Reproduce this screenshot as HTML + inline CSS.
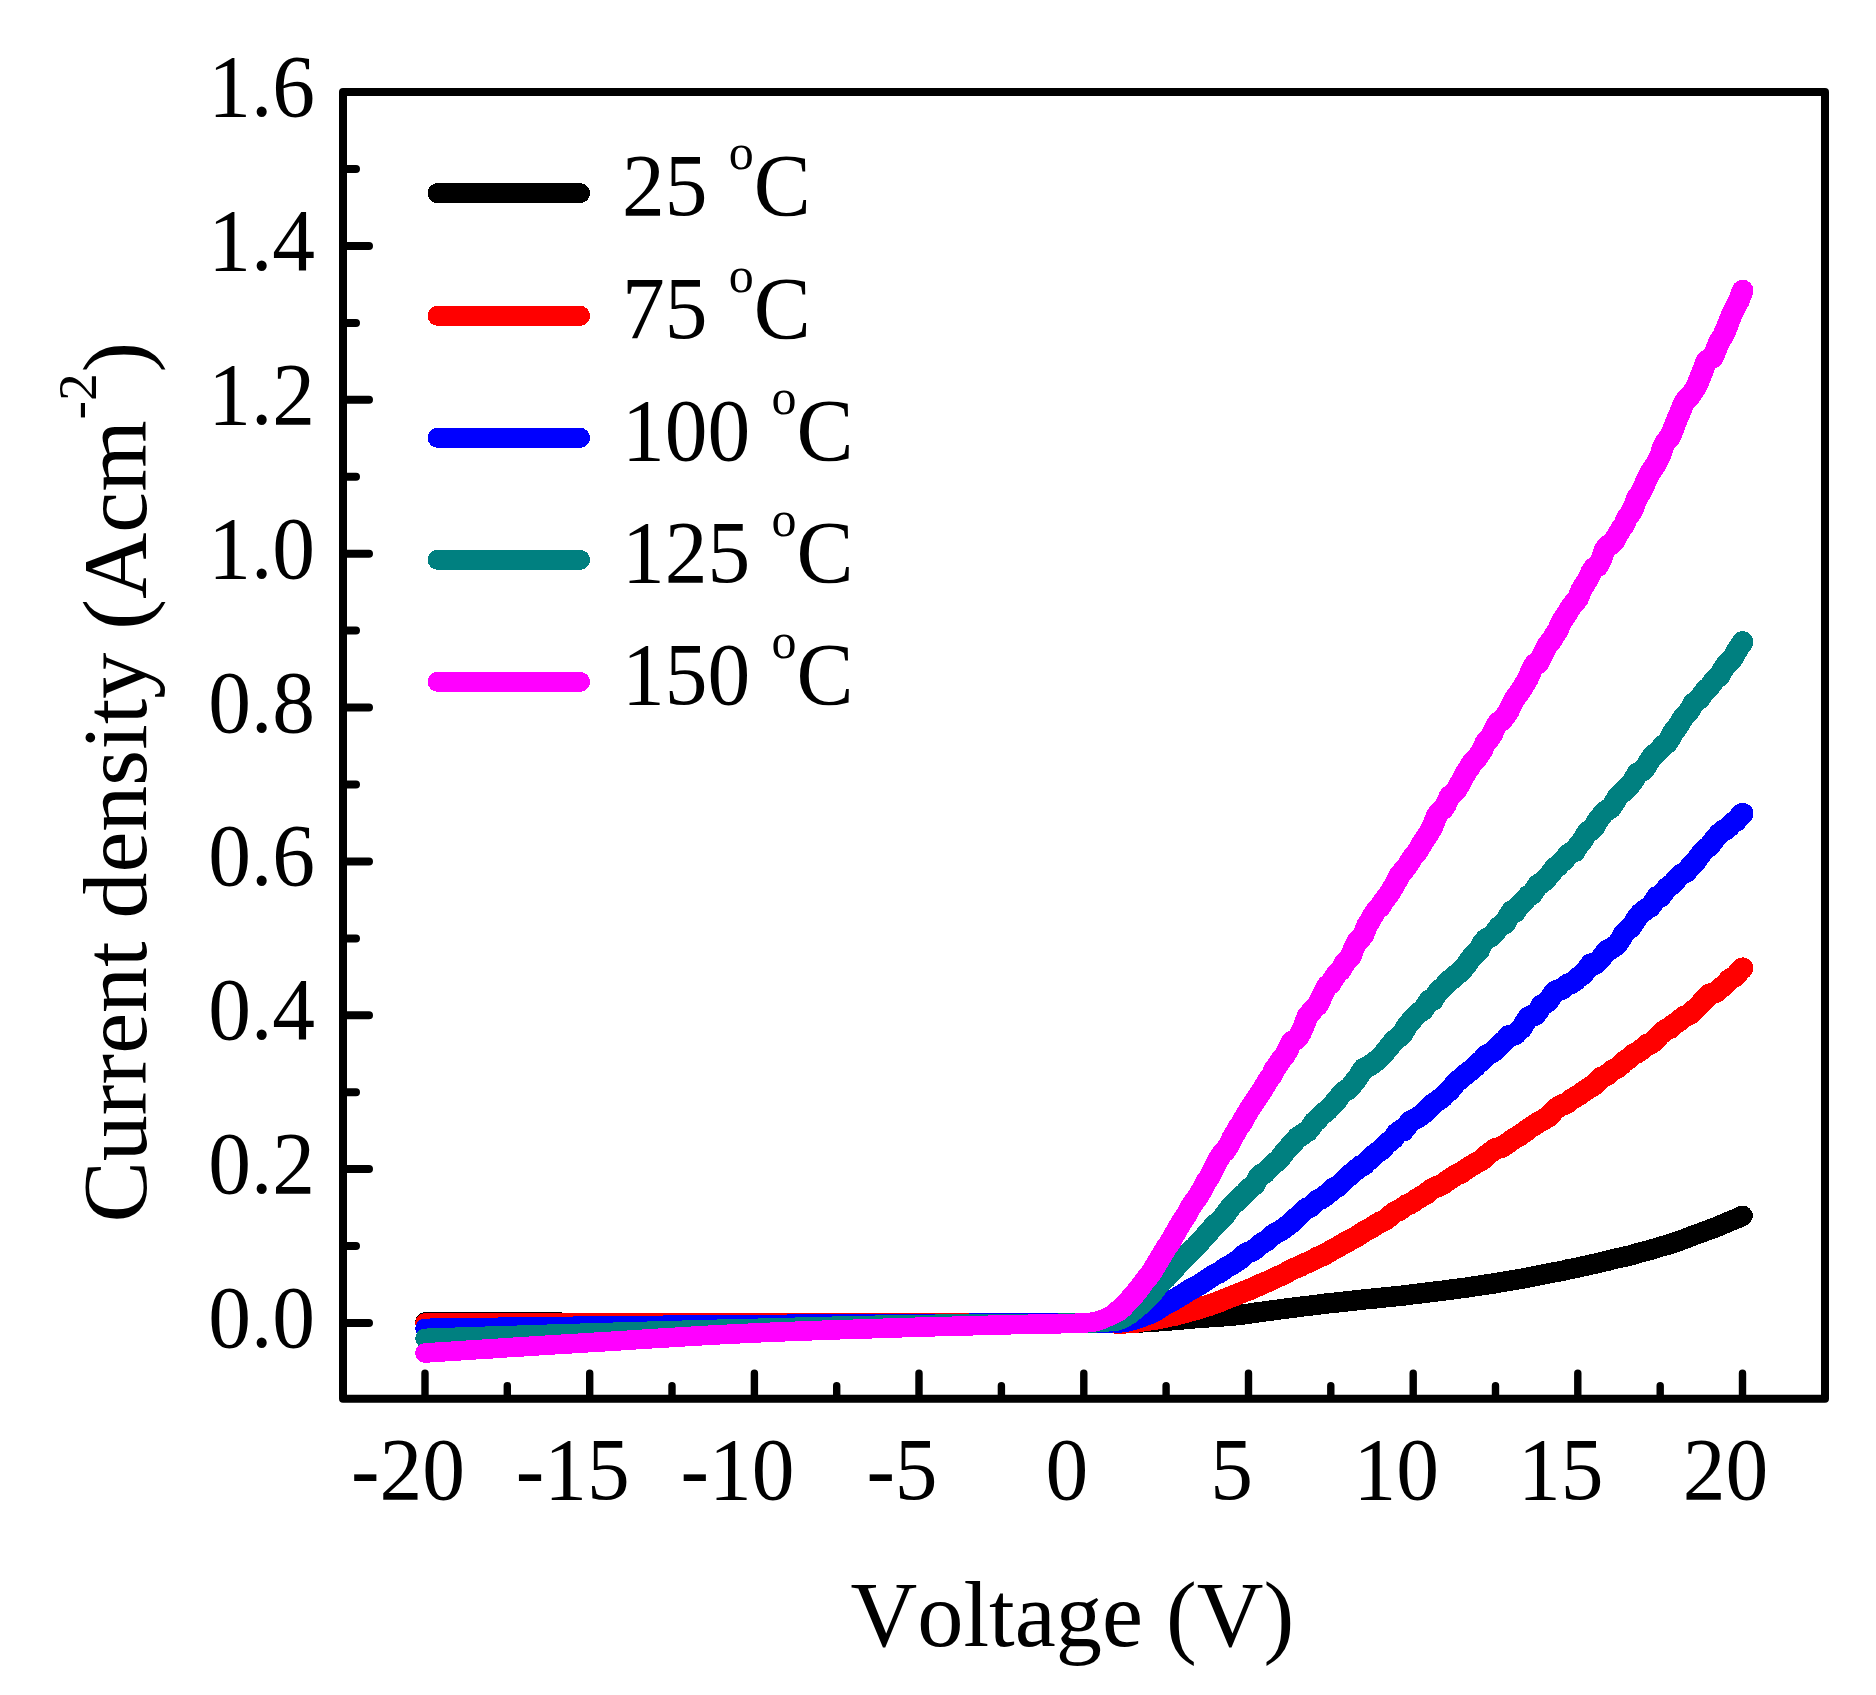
<!DOCTYPE html>
<html lang="en"><head><meta charset="utf-8"><title>Current density vs Voltage</title>
<style>
html,body{margin:0;padding:0;background:#fff;}
body{width:1876px;height:1695px;overflow:hidden;}
svg{display:block;}
text{font-family:"Liberation Serif","Times New Roman",Times,serif;fill:#000;font-kerning:none;}
.tk{font-size:85.5px;}
.ti{font-size:92.4px;}
</style></head><body>
<svg width="1876" height="1695" viewBox="0 0 1876 1695">
<rect x="0" y="0" width="1876" height="1695" fill="#ffffff"/>
<g fill="none" stroke-linecap="round" stroke-linejoin="round" shape-rendering="crispEdges">
<path stroke="#000000" stroke-width="19.6" d="M425.0 1322.0 L441.4 1322.0 L457.9 1322.0 L474.4 1322.0 L490.8 1322.0 L507.3 1322.0 L523.8 1322.0 L540.2 1322.0 L556.7 1322.0 L573.2 1323.0 L589.7 1323.0 L606.1 1323.0 L622.6 1323.0 L639.1 1323.0 L655.5 1323.0 L672.0 1323.0 L688.5 1323.0 L704.9 1323.0 L721.4 1323.0 L737.9 1323.0 L754.4 1323.0 L770.8 1323.0 L787.3 1323.0 L803.8 1323.0 L820.2 1323.0 L836.7 1323.0 L853.2 1323.0 L869.6 1323.0 L886.1 1323.0 L902.6 1323.0 L919.1 1323.0 L935.5 1323.0 L952.0 1323.0 L968.5 1323.0 L984.9 1323.0 L1001.4 1323.0 L1017.9 1323.0 L1034.3 1323.0 L1050.8 1323.0 L1067.3 1323.0 L1083.8 1323.0 L1087.0 1323.0 L1090.3 1323.0 L1093.6 1323.0 L1096.9 1323.0 L1100.2 1323.0 L1103.5 1323.0 L1106.8 1323.0 L1110.1 1322.9 L1113.4 1322.9 L1116.7 1322.9"/>
<path stroke="#000000" stroke-width="20.4" d="M1116.7 1322.9 L1120.0 1322.9 L1123.3 1322.9 L1126.6 1322.8 L1129.9 1322.8 L1133.2 1322.8 L1136.5 1322.7 L1139.7 1322.5 L1143.0 1322.3 L1146.3 1322.1 L1149.6 1321.8 L1152.9 1321.6 L1156.2 1321.5 L1159.5 1321.2 L1162.8 1320.9 L1166.1 1320.7 L1169.4 1320.5 L1172.7 1320.2 L1176.0 1320.0 L1179.3 1319.7 L1182.6 1319.4 L1185.9 1319.1 L1189.2 1318.8 L1192.5 1318.5 L1195.7 1318.2 L1199.0 1318.0 L1202.3 1317.7 L1205.6 1317.5 L1208.9 1317.3 L1212.2 1317.1 L1215.5 1316.9 L1218.8 1316.6 L1222.1 1316.4 L1225.4 1316.2 L1228.7 1315.9 L1232.0 1315.6 L1235.3 1315.3 L1238.6 1315.1 L1241.9 1314.7 L1245.2 1314.2 L1248.5 1313.8 L1251.7 1313.2 L1255.0 1312.7 L1258.3 1312.3 L1261.6 1311.9 L1264.9 1311.4 L1268.2 1310.9 L1271.5 1310.5 L1274.8 1310.1 L1278.1 1309.6 L1281.4 1309.2 L1284.7 1308.7 L1288.0 1308.3 L1291.3 1307.9 L1294.6 1307.5 L1297.9 1307.1 L1301.2 1306.7 L1304.4 1306.2 L1307.7 1305.9 L1311.0 1305.5 L1314.3 1305.1 L1317.6 1304.7 L1320.9 1304.2 L1324.2 1303.8 L1327.5 1303.4 L1330.8 1303.0 L1334.1 1302.7 L1337.4 1302.4 L1340.7 1302.0 L1344.0 1301.6 L1347.3 1301.3 L1350.6 1301.0 L1353.9 1300.6 L1357.2 1300.2 L1360.4 1299.8 L1363.7 1299.5 L1367.0 1299.2 L1370.3 1298.8 L1373.6 1298.6 L1376.9 1298.3 L1380.2 1298.0 L1383.5 1297.5 L1386.8 1297.1 L1390.1 1296.8 L1393.4 1296.5 L1396.7 1296.1 L1400.0 1295.8 L1403.3 1295.5 L1406.6 1295.1 L1409.9 1294.7 L1413.2 1294.2 L1416.4 1293.9 L1419.7 1293.5 L1423.0 1293.2 L1426.3 1292.7 L1429.6 1292.2 L1432.9 1291.8 L1436.2 1291.5 L1439.5 1291.1 L1442.8 1290.7 L1446.1 1290.2 L1449.4 1289.7 L1452.7 1289.4 L1456.0 1288.9 L1459.3 1288.5 L1462.6 1288.0 L1465.9 1287.7 L1469.1 1287.2 L1472.4 1286.7 L1475.7 1286.1 L1479.0 1285.7 L1482.3 1285.1 L1485.6 1284.6 L1488.9 1284.2 L1492.2 1283.7 L1495.5 1283.2 L1498.8 1282.6 L1502.1 1282.1 L1505.4 1281.5 L1508.7 1280.8 L1512.0 1280.4 L1515.3 1279.9 L1518.6 1279.3 L1521.9 1278.7 L1525.1 1278.2 L1528.4 1277.5 L1531.7 1276.8 L1535.0 1276.2 L1538.3 1275.5 L1541.6 1274.8 L1544.9 1274.2 L1548.2 1273.5 L1551.5 1272.8 L1554.8 1272.3 L1558.1 1271.7 L1561.4 1271.1 L1564.7 1270.3 L1568.0 1269.4 L1571.3 1268.8 L1574.6 1268.2 L1577.9 1267.6 L1581.1 1266.8 L1584.4 1266.0 L1587.7 1265.3 L1591.0 1264.5 L1594.3 1263.8 L1597.6 1263.1 L1600.9 1262.3 L1604.2 1261.5 L1607.5 1260.8 L1610.8 1259.9 L1614.1 1259.0 L1617.4 1258.3 L1620.7 1257.6 L1624.0 1256.9 L1627.3 1256.0 L1630.6 1255.3 L1633.8 1254.4 L1637.1 1253.3 L1640.4 1252.4 L1643.7 1251.6 L1647.0 1250.9 L1650.3 1249.9 L1653.6 1248.9 L1656.9 1247.8 L1660.2 1246.7 L1663.5 1245.9 L1666.8 1245.0 L1670.1 1244.0 L1673.4 1242.8 L1676.7 1241.7 L1680.0 1240.6 L1683.3 1239.4 L1686.6 1238.2 L1689.8 1236.9 L1693.1 1235.6 L1696.4 1234.4 L1699.7 1233.3 L1703.0 1232.0 L1706.3 1230.8 L1709.6 1229.6 L1712.9 1228.4 L1716.2 1227.2 L1719.5 1225.8 L1722.8 1224.3 L1726.1 1222.9 L1729.4 1221.5 L1732.7 1220.1 L1736.0 1218.9 L1739.3 1217.4 L1742.6 1215.8"/>
<path stroke="#ff0000" stroke-width="19.6" d="M425.0 1323.0 L441.4 1323.0 L457.9 1323.0 L474.4 1323.0 L490.8 1323.0 L507.3 1323.0 L523.8 1323.0 L540.2 1323.0 L556.7 1323.0 L573.2 1323.0 L589.7 1323.0 L606.1 1323.0 L622.6 1323.0 L639.1 1323.0 L655.5 1323.0 L672.0 1323.0 L688.5 1323.0 L704.9 1323.0 L721.4 1323.0 L737.9 1323.0 L754.4 1323.0 L770.8 1323.0 L787.3 1323.0 L803.8 1323.0 L820.2 1323.0 L836.7 1323.0 L853.2 1323.0 L869.6 1323.0 L886.1 1323.0 L902.6 1323.0 L919.1 1323.0 L935.5 1323.0 L952.0 1323.0 L968.5 1323.0 L984.9 1323.0 L1001.4 1323.0 L1017.9 1323.0 L1034.3 1323.0 L1050.8 1323.0 L1067.3 1323.0 L1083.8 1323.0 L1087.0 1323.0 L1090.3 1323.0 L1093.6 1323.0 L1096.9 1323.0 L1100.2 1323.0 L1103.5 1323.0 L1106.8 1323.0 L1110.1 1323.0 L1113.4 1323.0 L1116.7 1323.0"/>
<path stroke="#ff0000" stroke-width="21.6" d="M1116.7 1323.0 L1120.0 1323.0 L1123.3 1322.8 L1126.6 1322.7 L1129.9 1322.5 L1133.2 1322.2 L1136.5 1321.9 L1139.7 1321.5 L1143.0 1320.7 L1146.3 1320.2 L1149.6 1319.8 L1152.9 1319.3 L1156.2 1318.8 L1159.5 1318.3 L1162.8 1317.6 L1166.1 1316.8 L1169.4 1316.0 L1172.7 1315.5 L1176.0 1314.8 L1179.3 1313.9 L1182.6 1312.9 L1185.9 1312.1 L1189.2 1311.1 L1192.5 1310.4 L1195.7 1309.5 L1199.0 1308.4 L1202.3 1307.2 L1205.6 1306.2 L1208.9 1305.4 L1212.2 1304.2 L1215.5 1302.9 L1218.8 1301.8 L1222.1 1300.6 L1225.4 1299.0 L1228.7 1297.7 L1232.0 1296.4 L1235.3 1295.2 L1238.6 1293.7 L1241.9 1292.4 L1245.2 1291.0 L1248.5 1289.9 L1251.7 1288.6 L1255.0 1287.1 L1258.3 1285.7 L1261.6 1284.0 L1264.9 1282.7 L1268.2 1281.4 L1271.5 1279.8 L1274.8 1278.3 L1278.1 1276.6 L1281.4 1275.4 L1284.7 1273.8 L1288.0 1271.7 L1291.3 1269.8 L1294.6 1268.3 L1297.9 1267.2 L1301.2 1265.6 L1304.4 1263.7 L1307.7 1262.5 L1311.0 1261.1 L1314.3 1259.2 L1317.6 1257.5 L1320.9 1256.2 L1324.2 1254.8 L1327.5 1252.9 L1330.8 1250.7 L1334.1 1249.1 L1337.4 1247.3 L1340.7 1245.2 L1344.0 1243.3 L1347.3 1241.7 L1350.6 1239.8 L1353.9 1238.2 L1357.2 1236.3 L1360.4 1234.3 L1363.7 1231.8 L1367.0 1230.1 L1370.3 1228.5 L1373.6 1226.4 L1376.9 1224.2 L1380.2 1222.1 L1383.5 1220.8 L1386.8 1218.8 L1390.1 1216.0 L1393.4 1213.0 L1396.7 1211.3 L1400.0 1209.8 L1403.3 1207.4 L1406.6 1205.0 L1409.9 1203.8 L1413.2 1201.9 L1416.4 1199.4 L1419.7 1197.4 L1423.0 1195.6 L1426.3 1193.7 L1429.6 1190.7 L1432.9 1188.6 L1436.2 1187.1 L1439.5 1185.6 L1442.8 1184.3 L1446.1 1181.6 L1449.4 1179.4 L1452.7 1177.1 L1456.0 1174.9 L1459.3 1173.6 L1462.6 1172.0 L1465.9 1169.3 L1469.1 1167.3 L1472.4 1165.3 L1475.7 1163.2 L1479.0 1161.4 L1482.3 1159.6 L1485.6 1156.1 L1488.9 1153.7 L1492.2 1151.1 L1495.5 1148.7 L1498.8 1147.9 L1502.1 1147.0 L1505.4 1144.8 L1508.7 1142.5 L1512.0 1140.0 L1515.3 1137.8 L1518.6 1136.3 L1521.9 1133.5 L1525.1 1131.7 L1528.4 1128.9 L1531.7 1126.7 L1535.0 1124.7 L1538.3 1122.5 L1541.6 1120.6 L1544.9 1118.8 L1548.2 1117.0 L1551.5 1113.5 L1554.8 1109.7 L1558.1 1107.1 L1561.4 1105.4 L1564.7 1104.0 L1568.0 1102.4 L1571.3 1099.3 L1574.6 1097.6 L1577.9 1095.7 L1581.1 1093.5 L1584.4 1091.1 L1587.7 1089.0 L1591.0 1086.8 L1594.3 1084.9 L1597.6 1081.6 L1600.9 1077.7 L1604.2 1076.4 L1607.5 1074.6 L1610.8 1071.6 L1614.1 1069.3 L1617.4 1068.0 L1620.7 1065.1 L1624.0 1061.7 L1627.3 1059.5 L1630.6 1057.0 L1633.8 1054.0 L1637.1 1052.7 L1640.4 1050.4 L1643.7 1047.6 L1647.0 1044.6 L1650.3 1044.1 L1653.6 1041.4 L1656.9 1038.0 L1660.2 1034.5 L1663.5 1031.4 L1666.8 1029.0 L1670.1 1028.2 L1673.4 1024.7 L1676.7 1022.5 L1680.0 1020.2 L1683.3 1017.0 L1686.6 1015.7 L1689.8 1014.1 L1693.1 1010.6 L1696.4 1008.2 L1699.7 1004.8 L1703.0 1000.9 L1706.3 997.6 L1709.6 994.3 L1712.9 993.3 L1716.2 992.1 L1719.5 989.1 L1722.8 986.4 L1726.1 983.5 L1729.4 979.6 L1732.7 977.8 L1736.0 975.7 L1739.3 971.1 L1742.6 968.2"/>
<path stroke="#0000ff" stroke-width="19.6" d="M425.0 1328.4 L441.4 1328.1 L457.9 1327.9 L474.4 1327.7 L490.8 1327.4 L507.3 1327.2 L523.8 1327.0 L540.2 1326.7 L556.7 1326.5 L573.2 1326.3 L589.7 1326.1 L606.1 1325.9 L622.6 1325.7 L639.1 1325.5 L655.5 1325.4 L672.0 1325.2 L688.5 1325.1 L704.9 1324.9 L721.4 1324.8 L737.9 1324.7 L754.4 1324.5 L770.8 1324.4 L787.3 1324.3 L803.8 1324.2 L820.2 1324.1 L836.7 1324.0 L853.2 1323.9 L869.6 1323.8 L886.1 1323.7 L902.6 1323.6 L919.1 1323.5 L935.5 1323.4 L952.0 1323.3 L968.5 1323.3 L984.9 1323.2 L1001.4 1323.1 L1017.9 1323.1 L1034.3 1323.1 L1050.8 1323.0 L1067.3 1323.0 L1083.8 1323.0 L1087.0 1323.0 L1090.3 1323.0 L1093.6 1323.0 L1096.9 1323.0 L1100.2 1323.0 L1103.5 1323.0 L1106.8 1323.0 L1110.1 1322.9 L1113.4 1322.6 L1116.7 1322.2"/>
<path stroke="#0000ff" stroke-width="21.6" d="M1116.7 1322.2 L1120.0 1321.8 L1123.3 1321.6 L1126.6 1321.0 L1129.9 1320.1 L1133.2 1319.3 L1136.5 1318.4 L1139.7 1317.2 L1143.0 1315.9 L1146.3 1314.8 L1149.6 1313.5 L1152.9 1311.9 L1156.2 1310.3 L1159.5 1308.1 L1162.8 1305.8 L1166.1 1304.1 L1169.4 1302.2 L1172.7 1300.6 L1176.0 1298.5 L1179.3 1296.5 L1182.6 1294.5 L1185.9 1292.3 L1189.2 1290.1 L1192.5 1288.5 L1195.7 1286.8 L1199.0 1285.0 L1202.3 1282.7 L1205.6 1280.6 L1208.9 1278.4 L1212.2 1276.3 L1215.5 1274.2 L1218.8 1273.0 L1222.1 1270.6 L1225.4 1268.0 L1228.7 1266.3 L1232.0 1264.4 L1235.3 1262.2 L1238.6 1260.2 L1241.9 1257.3 L1245.2 1254.0 L1248.5 1252.3 L1251.7 1251.2 L1255.0 1249.1 L1258.3 1246.3 L1261.6 1243.5 L1264.9 1241.7 L1268.2 1239.3 L1271.5 1236.1 L1274.8 1233.6 L1278.1 1231.9 L1281.4 1230.1 L1284.7 1227.9 L1288.0 1225.3 L1291.3 1222.9 L1294.6 1219.2 L1297.9 1216.7 L1301.2 1213.4 L1304.4 1209.9 L1307.7 1207.9 L1311.0 1206.5 L1314.3 1203.1 L1317.6 1200.2 L1320.9 1198.8 L1324.2 1196.6 L1327.5 1193.8 L1330.8 1191.3 L1334.1 1187.8 L1337.4 1186.9 L1340.7 1184.0 L1344.0 1180.5 L1347.3 1177.4 L1350.6 1174.4 L1353.9 1171.7 L1357.2 1168.9 L1360.4 1166.1 L1363.7 1165.1 L1367.0 1161.7 L1370.3 1158.7 L1373.6 1155.4 L1376.9 1152.7 L1380.2 1150.7 L1383.5 1147.6 L1386.8 1143.7 L1390.1 1141.1 L1393.4 1138.5 L1396.7 1133.5 L1400.0 1130.7 L1403.3 1130.7 L1406.6 1126.7 L1409.9 1121.8 L1413.2 1120.0 L1416.4 1118.4 L1419.7 1116.3 L1423.0 1113.8 L1426.3 1110.8 L1429.6 1107.7 L1432.9 1103.9 L1436.2 1101.7 L1439.5 1099.5 L1442.8 1097.0 L1446.1 1093.4 L1449.4 1090.7 L1452.7 1086.8 L1456.0 1082.5 L1459.3 1079.8 L1462.6 1077.0 L1465.9 1074.2 L1469.1 1071.7 L1472.4 1069.2 L1475.7 1066.1 L1479.0 1062.6 L1482.3 1060.5 L1485.6 1055.9 L1488.9 1053.9 L1492.2 1052.4 L1495.5 1049.6 L1498.8 1046.4 L1502.1 1042.9 L1505.4 1040.0 L1508.7 1035.8 L1512.0 1035.3 L1515.3 1034.5 L1518.6 1030.8 L1521.9 1028.0 L1525.1 1022.5 L1528.4 1017.4 L1531.7 1015.4 L1535.0 1015.2 L1538.3 1011.2 L1541.6 1005.2 L1544.9 1003.3 L1548.2 1001.1 L1551.5 996.3 L1554.8 991.5 L1558.1 990.2 L1561.4 989.5 L1564.7 986.8 L1568.0 984.2 L1571.3 983.2 L1574.6 981.2 L1577.9 977.8 L1581.1 975.7 L1584.4 972.5 L1587.7 968.3 L1591.0 964.1 L1594.3 964.4 L1597.6 962.1 L1600.9 958.5 L1604.2 954.1 L1607.5 950.3 L1610.8 948.9 L1614.1 946.8 L1617.4 944.2 L1620.7 939.2 L1624.0 933.5 L1627.3 930.2 L1630.6 927.6 L1633.8 923.1 L1637.1 918.0 L1640.4 913.8 L1643.7 911.2 L1647.0 908.4 L1650.3 906.8 L1653.6 902.3 L1656.9 896.9 L1660.2 896.9 L1663.5 892.7 L1666.8 888.2 L1670.1 885.8 L1673.4 883.1 L1676.7 879.1 L1680.0 875.5 L1683.3 873.2 L1686.6 871.7 L1689.8 867.3 L1693.1 864.1 L1696.4 860.4 L1699.7 855.8 L1703.0 851.5 L1706.3 848.3 L1709.6 846.2 L1712.9 841.5 L1716.2 837.2 L1719.5 833.7 L1722.8 830.8 L1726.1 829.4 L1729.4 826.4 L1732.7 822.7 L1736.0 821.1 L1739.3 816.9 L1742.6 813.6"/>
<path stroke="#008080" stroke-width="19.6" d="M425.0 1338.4 L441.4 1337.8 L457.9 1337.2 L474.4 1336.7 L490.8 1336.1 L507.3 1335.6 L523.8 1335.1 L540.2 1334.5 L556.7 1334.0 L573.2 1333.5 L589.7 1333.0 L606.1 1332.5 L622.6 1332.0 L639.1 1331.5 L655.5 1331.1 L672.0 1330.6 L688.5 1330.1 L704.9 1329.7 L721.4 1329.2 L737.9 1328.8 L754.4 1328.4 L770.8 1328.0 L787.3 1327.5 L803.8 1327.1 L820.2 1326.6 L836.7 1326.2 L853.2 1325.8 L869.6 1325.4 L886.1 1325.1 L902.6 1324.8 L919.1 1324.5 L935.5 1324.3 L952.0 1324.2 L968.5 1324.0 L984.9 1323.9 L1001.4 1323.8 L1017.9 1323.7 L1034.3 1323.6 L1050.8 1323.4 L1067.3 1323.2 L1083.8 1323.0 L1087.0 1322.9 L1090.3 1322.9 L1093.6 1322.8 L1096.9 1322.7 L1100.2 1322.6 L1103.5 1322.4 L1106.8 1322.0 L1110.1 1321.2 L1113.4 1320.8 L1116.7 1320.0"/>
<path stroke="#008080" stroke-width="21.6" d="M1116.7 1320.0 L1120.0 1318.7 L1123.3 1317.4 L1126.6 1315.4 L1129.9 1313.3 L1133.2 1310.6 L1136.5 1307.8 L1139.7 1305.2 L1143.0 1302.1 L1146.3 1299.0 L1149.6 1295.8 L1152.9 1292.3 L1156.2 1287.8 L1159.5 1283.8 L1162.8 1280.8 L1166.1 1277.7 L1169.4 1273.9 L1172.7 1270.5 L1176.0 1266.7 L1179.3 1263.2 L1182.6 1259.7 L1185.9 1256.1 L1189.2 1253.0 L1192.5 1249.8 L1195.7 1246.6 L1199.0 1242.9 L1202.3 1239.4 L1205.6 1235.5 L1208.9 1232.0 L1212.2 1228.0 L1215.5 1224.4 L1218.8 1221.8 L1222.1 1218.3 L1225.4 1214.4 L1228.7 1209.7 L1232.0 1205.5 L1235.3 1202.5 L1238.6 1199.6 L1241.9 1195.9 L1245.2 1193.3 L1248.5 1189.0 L1251.7 1186.9 L1255.0 1184.2 L1258.3 1177.6 L1261.6 1174.3 L1264.9 1172.9 L1268.2 1169.3 L1271.5 1165.9 L1274.8 1162.8 L1278.1 1160.4 L1281.4 1156.6 L1284.7 1152.1 L1288.0 1148.4 L1291.3 1144.6 L1294.6 1141.3 L1297.9 1137.2 L1301.2 1135.6 L1304.4 1133.0 L1307.7 1131.2 L1311.0 1127.2 L1314.3 1121.9 L1317.6 1119.5 L1320.9 1115.6 L1324.2 1112.7 L1327.5 1110.3 L1330.8 1106.6 L1334.1 1103.2 L1337.4 1099.5 L1340.7 1094.8 L1344.0 1091.6 L1347.3 1089.7 L1350.6 1086.8 L1353.9 1082.4 L1357.2 1078.6 L1360.4 1073.5 L1363.7 1068.5 L1367.0 1066.9 L1370.3 1065.4 L1373.6 1062.8 L1376.9 1060.3 L1380.2 1057.4 L1383.5 1053.9 L1386.8 1049.8 L1390.1 1045.8 L1393.4 1041.4 L1396.7 1038.8 L1400.0 1036.1 L1403.3 1032.7 L1406.6 1026.4 L1409.9 1022.6 L1413.2 1018.3 L1416.4 1015.3 L1419.7 1012.1 L1423.0 1010.2 L1426.3 1005.2 L1429.6 1000.2 L1432.9 1000.1 L1436.2 994.8 L1439.5 989.9 L1442.8 987.7 L1446.1 984.0 L1449.4 980.4 L1452.7 978.7 L1456.0 975.1 L1459.3 972.7 L1462.6 969.4 L1465.9 965.4 L1469.1 960.9 L1472.4 956.5 L1475.7 953.2 L1479.0 950.5 L1482.3 943.4 L1485.6 939.6 L1488.9 937.5 L1492.2 935.6 L1495.5 931.8 L1498.8 927.3 L1502.1 924.7 L1505.4 923.1 L1508.7 916.1 L1512.0 910.7 L1515.3 911.6 L1518.6 906.6 L1521.9 903.0 L1525.1 899.8 L1528.4 895.7 L1531.7 894.5 L1535.0 889.7 L1538.3 884.6 L1541.6 883.0 L1544.9 880.3 L1548.2 876.5 L1551.5 872.6 L1554.8 867.7 L1558.1 865.9 L1561.4 862.0 L1564.7 859.7 L1568.0 854.7 L1571.3 852.5 L1574.6 851.6 L1577.9 845.9 L1581.1 842.3 L1584.4 837.2 L1587.7 831.7 L1591.0 830.8 L1594.3 827.1 L1597.6 820.4 L1600.9 816.7 L1604.2 812.1 L1607.5 809.9 L1610.8 808.1 L1614.1 803.1 L1617.4 797.2 L1620.7 793.6 L1624.0 791.2 L1627.3 787.8 L1630.6 784.3 L1633.8 780.0 L1637.1 773.6 L1640.4 771.8 L1643.7 770.1 L1647.0 765.2 L1650.3 759.2 L1653.6 755.2 L1656.9 752.6 L1660.2 749.3 L1663.5 745.4 L1666.8 743.2 L1670.1 738.4 L1673.4 731.8 L1676.7 728.1 L1680.0 722.9 L1683.3 717.5 L1686.6 714.0 L1689.8 710.0 L1693.1 703.8 L1696.4 701.1 L1699.7 698.5 L1703.0 693.4 L1706.3 689.7 L1709.6 686.9 L1712.9 682.0 L1716.2 678.4 L1719.5 675.9 L1722.8 669.9 L1726.1 664.9 L1729.4 661.4 L1732.7 658.2 L1736.0 652.3 L1739.3 646.8 L1742.6 642.0"/>
<path stroke="#ff00ff" stroke-width="19.6" d="M425.0 1353.0 L441.4 1351.9 L457.9 1350.9 L474.4 1349.8 L490.8 1348.8 L507.3 1347.7 L523.8 1346.7 L540.2 1345.6 L556.7 1344.6 L573.2 1343.6 L589.7 1342.6 L606.1 1341.6 L622.6 1340.6 L639.1 1339.5 L655.5 1338.5 L672.0 1337.5 L688.5 1336.5 L704.9 1335.5 L721.4 1334.6 L737.9 1333.8 L754.4 1333.0 L770.8 1332.3 L787.3 1331.6 L803.8 1331.0 L820.2 1330.4 L836.7 1329.8 L853.2 1329.3 L869.6 1328.8 L886.1 1328.2 L902.6 1327.7 L919.1 1327.2 L935.5 1326.7 L952.0 1326.3 L968.5 1325.8 L984.9 1325.4 L1001.4 1325.0 L1017.9 1324.5 L1034.3 1324.2 L1050.8 1323.9 L1067.3 1323.6 L1083.8 1323.0 L1087.0 1322.8 L1090.3 1322.4 L1093.6 1322.0 L1096.9 1321.1 L1100.2 1320.0 L1103.5 1319.0 L1106.8 1317.4 L1110.1 1316.2 L1113.4 1314.4 L1116.7 1311.9"/>
<path stroke="#ff00ff" stroke-width="21.6" d="M1116.7 1311.9 L1120.0 1309.6 L1123.3 1306.6 L1126.6 1302.8 L1129.9 1299.4 L1133.2 1295.9 L1136.5 1291.7 L1139.7 1288.0 L1143.0 1283.2 L1146.3 1278.8 L1149.6 1275.1 L1152.9 1270.3 L1156.2 1264.5 L1159.5 1259.0 L1162.8 1253.6 L1166.1 1247.9 L1169.4 1243.5 L1172.7 1237.6 L1176.0 1231.8 L1179.3 1226.1 L1182.6 1220.6 L1185.9 1215.8 L1189.2 1209.5 L1192.5 1204.3 L1195.7 1199.8 L1199.0 1195.1 L1202.3 1189.3 L1205.6 1182.8 L1208.9 1177.9 L1212.2 1171.6 L1215.5 1164.8 L1218.8 1158.9 L1222.1 1153.6 L1225.4 1150.4 L1228.7 1145.8 L1232.0 1138.6 L1235.3 1132.9 L1238.6 1127.3 L1241.9 1122.6 L1245.2 1116.3 L1248.5 1111.0 L1251.7 1106.1 L1255.0 1101.2 L1258.3 1096.3 L1261.6 1091.3 L1264.9 1085.8 L1268.2 1080.2 L1271.5 1075.8 L1274.8 1068.8 L1278.1 1064.7 L1281.4 1059.3 L1284.7 1055.4 L1288.0 1049.8 L1291.3 1042.2 L1294.6 1040.3 L1297.9 1037.9 L1301.2 1032.1 L1304.4 1024.5 L1307.7 1015.8 L1311.0 1012.2 L1314.3 1008.1 L1317.6 1005.3 L1320.9 998.7 L1324.2 991.4 L1327.5 985.6 L1330.8 983.5 L1334.1 977.7 L1337.4 973.2 L1340.7 970.1 L1344.0 964.1 L1347.3 960.1 L1350.6 957.1 L1353.9 947.9 L1357.2 941.7 L1360.4 939.0 L1363.7 934.5 L1367.0 925.5 L1370.3 920.4 L1373.6 914.4 L1376.9 909.4 L1380.2 906.8 L1383.5 901.1 L1386.8 897.0 L1390.1 892.3 L1393.4 887.0 L1396.7 881.1 L1400.0 874.6 L1403.3 870.8 L1406.6 866.9 L1409.9 861.8 L1413.2 856.4 L1416.4 853.0 L1419.7 847.7 L1423.0 841.9 L1426.3 837.2 L1429.6 832.0 L1432.9 825.9 L1436.2 816.8 L1439.5 811.9 L1442.8 809.2 L1446.1 804.3 L1449.4 796.6 L1452.7 793.8 L1456.0 790.4 L1459.3 784.9 L1462.6 778.9 L1465.9 772.7 L1469.1 768.3 L1472.4 762.0 L1475.7 760.1 L1479.0 755.0 L1482.3 750.3 L1485.6 742.3 L1488.9 739.2 L1492.2 734.3 L1495.5 726.9 L1498.8 721.9 L1502.1 720.4 L1505.4 715.8 L1508.7 711.1 L1512.0 703.7 L1515.3 698.1 L1518.6 693.6 L1521.9 688.8 L1525.1 683.4 L1528.4 677.7 L1531.7 669.6 L1535.0 663.8 L1538.3 663.1 L1541.6 656.6 L1544.9 650.2 L1548.2 644.2 L1551.5 640.4 L1554.8 635.0 L1558.1 629.7 L1561.4 622.0 L1564.7 616.9 L1568.0 612.0 L1571.3 606.2 L1574.6 602.5 L1577.9 598.7 L1581.1 590.4 L1584.4 584.7 L1587.7 579.7 L1591.0 572.6 L1594.3 567.6 L1597.6 566.4 L1600.9 560.6 L1604.2 550.9 L1607.5 545.8 L1610.8 544.8 L1614.1 541.3 L1617.4 535.0 L1620.7 529.6 L1624.0 524.9 L1627.3 517.7 L1630.6 513.4 L1633.8 506.9 L1637.1 498.0 L1640.4 493.2 L1643.7 486.6 L1647.0 478.7 L1650.3 472.4 L1653.6 468.0 L1656.9 462.2 L1660.2 455.7 L1663.5 445.6 L1666.8 440.5 L1670.1 437.0 L1673.4 428.8 L1676.7 420.2 L1680.0 412.7 L1683.3 404.2 L1686.6 399.1 L1689.8 396.6 L1693.1 391.6 L1696.4 386.7 L1699.7 378.6 L1703.0 370.3 L1706.3 361.0 L1709.6 359.3 L1712.9 357.6 L1716.2 349.2 L1719.5 341.1 L1722.8 336.2 L1726.1 329.2 L1729.4 320.7 L1732.7 312.4 L1736.0 306.3 L1739.3 299.8 L1742.6 290.5"/>
</g>
<g stroke="#000" fill="none" stroke-linecap="round">
<path stroke-width="8" d="M345.0 1323.0H369.0M345.0 1169.1H369.0M345.0 1015.3H369.0M345.0 861.4H369.0M345.0 707.6H369.0M345.0 553.7H369.0M345.0 399.8H369.0M345.0 246.0H369.0"/>
<path stroke-width="8" d="M345.0 1246.1H356.0M345.0 1092.2H356.0M345.0 938.4H356.0M345.0 784.5H356.0M345.0 630.6H356.0M345.0 476.8H356.0M345.0 322.9H356.0M345.0 169.1H356.0"/>
<path stroke-width="7.4" d="M425.0 1396.7V1373.2M589.7 1396.7V1373.2M754.4 1396.7V1373.2M919.0 1396.7V1373.2M1083.8 1396.7V1373.2M1248.5 1396.7V1373.2M1413.2 1396.7V1373.2M1577.8 1396.7V1373.2M1742.5 1396.7V1373.2"/>
<path stroke-width="7.4" d="M507.3 1396.7V1385.7M672.0 1396.7V1385.7M836.7 1396.7V1385.7M1001.4 1396.7V1385.7M1166.1 1396.7V1385.7M1330.8 1396.7V1385.7M1495.5 1396.7V1385.7M1660.2 1396.7V1385.7"/>
</g>
<rect x="343.0" y="92.0" width="1482.0" height="1306.7" fill="none" stroke="#000" stroke-width="8" stroke-linejoin="round"/>
<g class="tk" text-anchor="end">
<text transform="translate(315.0 1347.0) scale(1.0 1.032)">0.0</text>
<text transform="translate(315.0 1193.1) scale(1.0 1.032)">0.2</text>
<text transform="translate(315.0 1039.3) scale(1.0 1.032)">0.4</text>
<text transform="translate(315.0 885.4) scale(1.0 1.032)">0.6</text>
<text transform="translate(315.0 731.6) scale(1.0 1.032)">0.8</text>
<text transform="translate(315.0 577.7) scale(1.0 1.032)">1.0</text>
<text transform="translate(315.0 423.8) scale(1.0 1.032)">1.2</text>
<text transform="translate(315.0 270.0) scale(1.0 1.032)">1.4</text>
<text transform="translate(315.0 116.1) scale(1.0 1.032)">1.6</text>
</g>
<g class="tk" text-anchor="middle">
<text transform="translate(408.0 1499.2) scale(1.0 1.032)">-20</text>
<text transform="translate(572.7 1499.2) scale(1.0 1.032)">-15</text>
<text transform="translate(737.4 1499.2) scale(1.0 1.032)">-10</text>
<text transform="translate(902.0 1499.2) scale(1.0 1.032)">-5</text>
<text transform="translate(1066.8 1499.2) scale(1.0 1.032)">0</text>
<text transform="translate(1231.5 1499.2) scale(1.0 1.032)">5</text>
<text transform="translate(1396.2 1499.2) scale(1.0 1.032)">10</text>
<text transform="translate(1560.8 1499.2) scale(1.0 1.032)">15</text>
<text transform="translate(1725.5 1499.2) scale(1.0 1.032)">20</text>
</g>
<text class="ti" transform="translate(850.5 1646.2)">Voltage (V)</text>
<text class="ti" style="font-size:92px" transform="translate(146.2 1222.5) rotate(-90)">Current density (Acm<tspan font-size="55.5px" dx="0.7" dy="-50.5">-2</tspan><tspan dx="0.8" dy="50.5">)</tspan></text>
<g stroke-width="20" stroke-linecap="round" shape-rendering="crispEdges">
<line x1="437.6" y1="193.1" x2="580.1" y2="193.1" stroke="#000000"/>
<line x1="437.6" y1="315.8" x2="580.1" y2="315.8" stroke="#ff0000"/>
<line x1="437.6" y1="437.8" x2="580.1" y2="437.8" stroke="#0000ff"/>
<line x1="437.6" y1="559.9" x2="580.1" y2="559.9" stroke="#008080"/>
<line x1="437.6" y1="681.9" x2="580.1" y2="681.9" stroke="#ff00ff"/>
</g>
<g class="tk">
<text transform="translate(622.0 214.9) scale(1.0 1.032)">25 <tspan font-size="50px" dy="-44.5">o</tspan><tspan dy="44.5">C</tspan></text>
<text transform="translate(622.0 337.6) scale(1.0 1.032)">75 <tspan font-size="50px" dy="-44.5">o</tspan><tspan dy="44.5">C</tspan></text>
<text transform="translate(622.0 459.6) scale(1.0 1.032)">100 <tspan font-size="50px" dy="-44.5">o</tspan><tspan dy="44.5">C</tspan></text>
<text transform="translate(622.0 581.7) scale(1.0 1.032)">125 <tspan font-size="50px" dy="-44.5">o</tspan><tspan dy="44.5">C</tspan></text>
<text transform="translate(622.0 703.7) scale(1.0 1.032)">150 <tspan font-size="50px" dy="-44.5">o</tspan><tspan dy="44.5">C</tspan></text>
</g>
</svg></body></html>
